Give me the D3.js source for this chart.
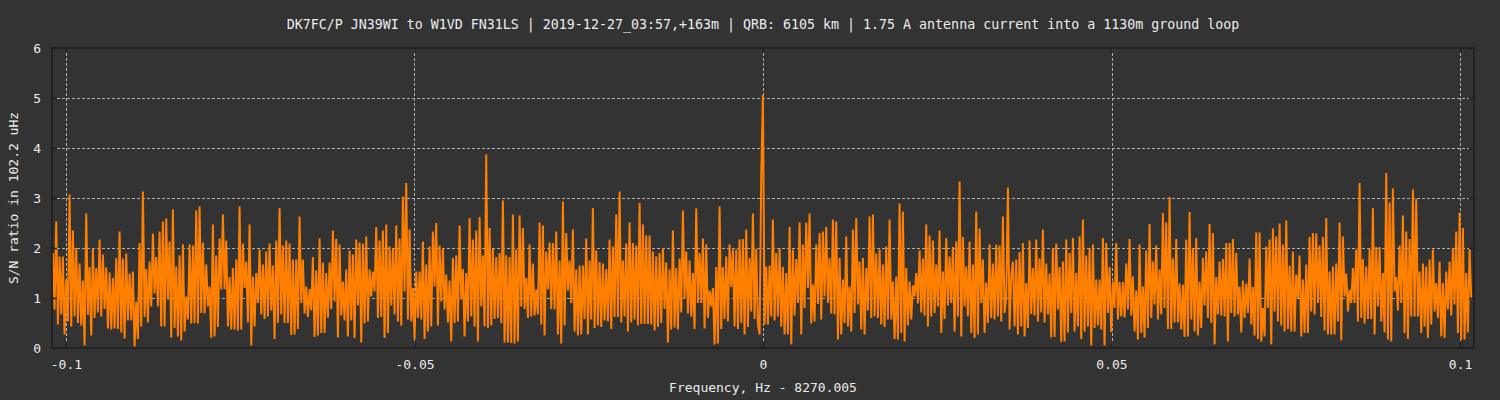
<!DOCTYPE html>
<html>
<head>
<meta charset="utf-8">
<script src="https://cdn.jsdelivr.net/npm/d3@7"></script>
<style>
  html, body { margin: 0; padding: 0; background: #333333; }
  svg { display: block; }
  text { font-family: "DejaVu Sans Mono", "Liberation Mono", monospace; fill: #ececec; }
</style>
</head>
<body>
<svg id="chart" width="1500" height="400"></svg>
<script>
// ---- chart texts ----
const titleText = "DK7FC/P JN39WI to W1VD FN31LS | 2019-12-27_03:57,+163m | QRB: 6105 km | 1.75 A antenna current into a 1130m ground loop";
const xLabel = "Frequency, Hz - 8270.005";
const yLabel = "S/N ratio in 102.2 uHz";

// ---- axes ----
const xDomain = [-0.102, 0.102];
const yDomain = [0, 6];
const xTicks = [-0.1, -0.05, 0, 0.05, 0.1];
const xTickLabels = ["-0.1", "-0.05", "0", "0.05", "0.1"];
const yTicks = [0, 1, 2, 3, 4, 5, 6];
const yTickLabels = ["0", "1", "2", "3", "4", "5", "6"];

// ---- frequency bins (uniform spectrum grid) ----
const freqStart = -0.10187;
const freqStep = 0.0002391;

// ---- S/N values, read left to right ----
const snr01 = [1.9,0.77, 2.53,0.47, 1.83,0.67, 1.83,0.27, 1.37,0.53, 3.07,0.43, 2.35,0.63, 2.0,0.5, 1.69,0.45, 1.35,0.05, 2.69,0.66, 1.62,0.25, 1.99,0.6, 1.6,0.71, 2.17,0.63, 1.87,0.78, 1.61,0.39, 1.51,0.37, 1.4,0.39, 1.8,0.38, 2.33,0.31, 1.79,0.19, 1.89,0.55, 1.49,0.55, 1.53,0.03, 0.93,0.18, 2.1,0.43, 3.13,0.62, 1.58,0.51, 1.73,0.83, 2.29,1.09, 1.82,0.83, 2.33,0.43, 2.53,0.43, 2.59,0.97];
const snr02 = [2.13,0.21, 2.77,0.4, 1.63,0.23, 1.85,0.15, 2.07,0.33, 1.03,0.57, 2.07,0.49, 2.05,0.5, 2.75,0.49, 2.83,0.7, 2.11,0.69, 1.67,0.83, 1.23,0.2, 2.47,0.23, 1.85,0.42, 2.19,1.17, 2.67,1.18, 2.15,0.43, 1.42,0.37, 1.6,0.37, 1.77,0.35, 2.83,0.37, 2.09,1.2, 1.73,0.51, 2.47,0.05, 1.43,0.43, 1.5,0.9, 1.97,0.67, 1.67,0.58, 1.93,0.63, 2.09,0.75, 1.65,0.18, 2.15,0.5, 2.8,0.67, 2.05,0.5, 2.15,0.5];
const snr03 = [2.09,0.26, 1.77,0.27, 1.77,0.38, 2.63,0.9, 1.77,0.69, 1.23,0.62, 1.18,0.75, 1.82,0.22, 1.55,0.25, 2.19,0.3, 1.71,0.3, 1.5,0.6, 1.71,0.78, 2.35,0.93, 2.18,0.21, 2.07,0.65, 1.33,0.55, 1.57,0.23, 1.95,0.55, 1.87,0.2, 2.17,0.85, 2.11,0.11, 2.09,0.49, 2.23,0.53, 1.57,1.03, 1.53,1.13, 2.42,0.6, 2.15,0.62, 2.35,0.2, 2.47,0.3, 2.03,0.85, 2.0,0.67, 2.45,0.53, 2.19,0.45, 3.03,1.13, 3.3,0.57];
const snr04 = [2.37,0.53, 1.2,0.18, 1.53,0.6, 1.53,0.57, 2.13,0.18, 1.67,0.33, 2.03,0.43, 2.33,1.23, 2.5,0.45, 2.05,0.93, 2.0,0.77, 1.47,0.51, 1.35,0.13, 1.8,0.5, 1.85,0.53, 2.45,0.97, 1.58,0.23, 1.5,0.53, 2.6,0.63, 2.17,0.43, 2.35,0.13, 2.62,0.83, 1.85,0.43, 3.87,0.4, 2.4,0.45, 1.99,0.58, 1.82,0.6, 1.9,0.5, 2.95,0.11, 1.85,0.11, 1.82,0.1, 2.67,0.09, 1.97,0.13, 2.65,0.83, 2.4,0.78, 1.4,0.6];
const snr05 = [2.07,0.63, 1.69,0.65, 1.17,0.67, 2.51,0.47, 2.45,0.25, 1.93,1.17, 2.11,0.78, 2.1,0.77, 2.33,0.27, 1.75,0.09, 2.93,0.45, 2.3,1.15, 1.75,0.9, 2.37,0.33, 1.57,0.25, 1.65,0.27, 1.65,0.58, 2.19,0.27, 1.75,0.57, 2.8,0.4, 1.95,0.45, 1.72,0.42, 1.69,0.55, 1.58,0.53, 2.17,0.38, 2.03,0.62, 2.67,0.62, 3.13,0.51, 1.75,0.63, 2.09,0.33, 2.51,0.51, 2.1,0.57, 2.05,0.45, 2.9,0.48, 2.47,0.48, 2.25,0.48];
const snr06 = [2.25,0.47, 1.93,0.35, 1.83,0.42, 1.9,0.5, 2.0,0.78, 1.71,0.11, 1.57,0.37, 2.35,0.41, 1.6,0.37, 1.79,0.71, 2.75,0.98, 1.93,0.69, 1.75,0.63, 1.5,0.38, 2.79,0.9, 1.9,0.9, 2.19,0.39, 2.07,0.6, 1.15,0.83, 1.2,0.07, 1.62,0.09, 2.83,0.38, 1.62,0.58, 1.83,0.53, 2.07,1.22, 1.97,0.43, 1.97,0.38, 2.17,0.5, 2.18,0.27, 2.37,0.42, 1.8,0.73, 2.69,0.58, 1.98,0.47, 0.27,3.45, 5.07,0.47, 1.63,0.47];
const snr07 = [1.65,0.63, 2.57,0.55, 1.9,0.63, 2.0,0.43, 1.62,0.27, 1.5,0.27, 2.42,0.07, 1.97,0.65, 1.78,0.9, 2.51,0.27, 2.07,0.8, 2.51,1.2, 2.69,0.49, 1.27,0.53, 2.07,0.88, 2.3,0.57, 2.33,1.03, 2.42,0.9, 1.8,0.69, 2.57,0.67, 2.53,0.17, 1.8,0.27, 1.37,0.5, 2.23,0.43, 1.23,0.33, 2.37,0.7, 2.6,0.87, 1.73,0.37, 1.8,0.27, 1.6,0.75, 2.63,0.6, 2.67,0.63, 1.89,0.6, 1.97,0.47, 1.67,0.42, 2.03,0.57];
const snr08 = [2.57,0.57, 1.33,0.18, 1.43,0.17, 2.89,0.3, 2.73,0.13, 1.6,0.45, 1.33,0.57, 1.25,1.03, 1.5,0.89, 1.95,0.71, 1.79,0.65, 2.47,0.43, 2.25,0.63, 2.15,0.7, 1.67,0.83, 2.35,0.3, 1.53,0.58, 2.2,0.85, 1.83,0.9, 2.02,0.33, 2.13,0.63, 3.33,0.23, 2.22,0.83, 1.63,0.63, 2.13,0.3, 1.67,0.2, 2.73,0.27, 2.39,0.9, 1.77,0.3, 1.31,0.5, 2.07,0.6, 1.69,0.57, 2.07,0.63, 2.05,0.53, 2.63,0.7, 1.0,3.21];
const snr09 = [0.37,1.43, 1.73,0.43, 1.77,0.27, 1.92,0.43, 2.1,0.23, 1.3,0.4, 2.15,0.68, 1.6,0.65, 2.17,0.53, 1.79,0.71, 2.37,0.51, 1.69,0.67, 1.49,0.21, 2.0,0.22, 2.09,0.77, 1.62,0.12, 1.73,0.13, 2.17,0.31, 1.9,0.7, 2.2,0.33, 1.5,0.43, 2.23,0.18, 2.57,0.33, 1.85,0.43, 2.0,0.05, 2.07,0.4, 1.37,0.45, 1.37,0.37, 2.2,0.05, 2.1,0.7, 1.62,0.32, 1.33,0.8, 2.1,0.57, 1.32,0.63, 1.32,0.61, 1.69,0.77];
const snr10 = [2.18,0.65, 1.43,0.33, 1.15,0.17, 2.07,0.3, 1.23,0.21, 1.95,0.4, 2.48,0.6, 1.73,0.87, 2.05,0.57, 1.57,0.67, 2.7,0.8, 2.51,0.38, 3.02,0.38, 1.79,0.51, 2.18,0.51, 1.29,0.37, 1.27,0.22, 2.17,0.23, 2.72,0.57, 2.0,0.33, 2.2,0.25, 1.33,0.4, 1.8,0.85, 1.93,0.6, 2.48,0.5, 2.3,0.07, 1.42,0.67, 1.73,0.65, 1.78,0.63, 2.1,0.13, 2.1,0.7, 2.18,0.63, 1.9,0.67, 1.23,0.31, 1.35,0.6, 1.29,0.7];
const snr11 = [1.79,0.47, 1.22,0.25, 2.31,0.18, 2.31,0.13, 0.8,0.23, 2.03,0.8, 2.17,0.07, 2.39,0.73, 2.23,0.53, 2.49,0.45, 2.07,0.33, 2.55,0.38, 1.65,0.33, 1.93,0.33, 1.47,1.0, 1.85,0.23, 1.37,0.3, 1.67,0.3, 2.22,0.73, 2.3,0.67, 2.29,0.9, 2.05,0.62, 2.22,0.35, 2.6,0.27, 1.53,0.27, 1.63,0.27, 1.69,0.53, 2.51,0.15, 2.23,1.03, 1.49,0.73, 1.17,0.9, 1.6,0.9, 1.97,0.53, 3.3,0.6, 1.78,0.49, 1.63,0.58];
const snr12 = [1.98,0.58, 2.8,0.27, 2.02,0.83, 2.02,0.53, 1.5,0.31, 3.5,0.17, 2.91,0.13, 3.19,1.13, 1.42,0.75, 2.05,0.9, 2.65,0.3, 2.33,0.18, 2.18,0.63, 3.17,0.63, 2.98,0.63, 1.53,0.3, 1.69,0.43, 1.63,0.2, 1.77,0.47, 1.97,0.73, 1.3,0.6, 1.73,0.23, 1.3,0.2, 1.53,0.77, 1.73,0.65, 2.0,0.87, 2.33,0.3, 2.71,0.17, 2.4,0.17, 1.5,0.31, 2.0,0.97];

const snrValues = [].concat(snr01, snr02, snr03, snr04, snr05, snr06, snr07, snr08, snr09, snr10, snr11, snr12);
const series = snrValues.map((v, i) => ({ f: freqStart + i * freqStep, v: v }));

// ---- layout ----
const W = 1500, H = 400;
const margin = { left: 52, right: 26, top: 48, bottom: 52 };
const svg = d3.select("#chart");

const x = d3.scaleLinear().domain(xDomain).range([margin.left, W - margin.right]);
const y = d3.scaleLinear().domain(yDomain).range([H - margin.bottom, margin.top]);

const plotL = margin.left, plotR = W - margin.right, plotT = margin.top, plotB = H - margin.bottom;

// grid
const grid = svg.append("g").attr("stroke", "#b0b0b0").attr("stroke-width", 1).attr("stroke-dasharray", "3,2");
grid.selectAll("line.gy").data(yTicks.filter(t => t > yDomain[0] && t < yDomain[1])).join("line")
  .attr("class", "gy")
  .attr("x1", plotL).attr("x2", plotR)
  .attr("y1", d => Math.round(y(d)) + 0.5).attr("y2", d => Math.round(y(d)) + 0.5);
grid.selectAll("line.gx").data(xTicks).join("line")
  .attr("class", "gx")
  .attr("y1", plotT).attr("y2", plotB)
  .attr("x1", d => Math.round(x(d)) + 0.5).attr("x2", d => Math.round(x(d)) + 0.5);

// data line
const line = d3.line().x(d => x(d.f)).y(d => y(d.v));
svg.append("path")
  .datum(series)
  .attr("fill", "none")
  .attr("stroke", "#ff8000")
  .attr("stroke-width", 2)
  .attr("stroke-linejoin", "miter")
  .attr("d", line);

// frame
svg.append("rect")
  .attr("x", plotL).attr("y", plotT)
  .attr("width", plotR - plotL).attr("height", plotB - plotT)
  .attr("fill", "none").attr("stroke", "#1e1e1e").attr("stroke-width", 1.5);

// axes with inward ticks (mirrored)
const tickLen = 5;
const axisStyle = g => {
  g.select(".domain").remove();
  g.selectAll(".tick line").attr("stroke", "#1e1e1e").attr("stroke-width", 1.5);
  g.selectAll(".tick text").attr("fill", "#ececec")
    .style("font-family", '"DejaVu Sans Mono", monospace').style("font-size", "13px");
};
svg.append("g").attr("transform", `translate(0,${plotB})`)
  .call(d3.axisBottom(x).tickValues(xTicks).tickFormat((d, i) => xTickLabels[i]).tickSize(-tickLen).tickPadding(12))
  .call(axisStyle);
svg.append("g").attr("transform", `translate(0,${plotT})`)
  .call(d3.axisTop(x).tickValues(xTicks).tickFormat("").tickSize(-tickLen))
  .call(axisStyle);
svg.append("g").attr("transform", `translate(${plotL},0)`)
  .call(d3.axisLeft(y).tickValues(yTicks).tickFormat((d, i) => yTickLabels[i]).tickSize(-tickLen).tickPadding(11))
  .call(axisStyle);
svg.append("g").attr("transform", `translate(${plotR},0)`)
  .call(d3.axisRight(y).tickValues(yTicks).tickFormat("").tickSize(-tickLen))
  .call(axisStyle);

// title and axis labels
svg.append("text")
  .attr("x", x(0)).attr("y", 29)
  .attr("text-anchor", "middle")
  .style("font-size", "13.3px")
  .text(titleText);
svg.append("text")
  .attr("x", x(0)).attr("y", 392)
  .attr("text-anchor", "middle")
  .style("font-size", "13px")
  .text(xLabel);
svg.append("text")
  .attr("transform", `translate(18,${(plotT + plotB) / 2}) rotate(-90)`)
  .attr("text-anchor", "middle")
  .style("font-size", "13px")
  .text(yLabel);
</script>
</body>
</html>
